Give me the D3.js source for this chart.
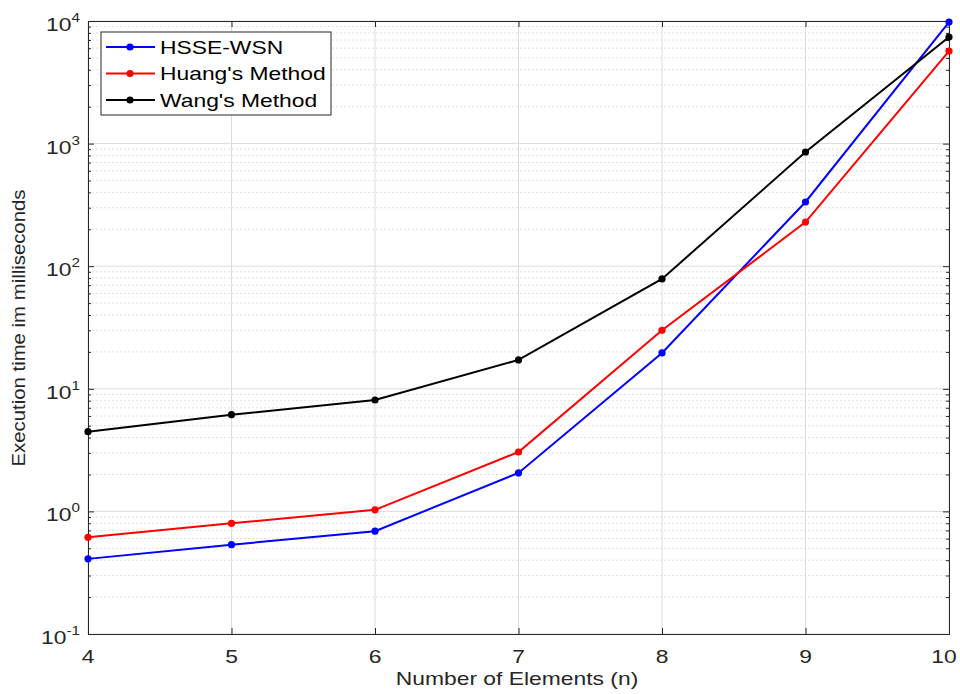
<!DOCTYPE html>
<html>
<head>
<meta charset="utf-8">
<script src="https://cdn.jsdelivr.net/npm/d3@7"></script>
<style>
  body { margin: 0; background: #fff; }
  text { font-family: Arial, "Liberation Sans", sans-serif; }
</style>
</head>
<body>
<svg id="chart" width="960" height="694"></svg>
<script>
var elements = [4, 5, 6, 7, 8, 9, 10]
var hsseWsn = [0.41, 0.535, 0.69, 2.06, 19.6, 334, 9800]
var huang = [0.615, 0.80, 1.03, 3.05, 30, 229, 5690]
var wang = [4.47, 6.15, 8.1, 17.2, 78.7, 854, 7400]
var seriesNames = ["HSSE-WSN", "Huang's Method", "Wang's Method"]
var seriesColors = ["#0000ff", "#ff0000", "#000000"]
var yTickExps = [-1, 0, 1, 2, 3, 4]

var svg = d3.select("#chart"),
  margin = {top: 21, right: 11, bottom: 60, left: 88},
  width = +svg.attr("width") - margin.left - margin.right,
  height = +svg.attr("height") - margin.top - margin.bottom;

var x = d3.scaleLinear().domain([4, 10]).range([0, width]),
  y = d3.scaleLog().domain([0.1, 10000]).range([height, 0]);

var axisColor = "#262626"
var sx = 1.27  // the picture's text is stretched sideways

// text stretched horizontally like the reference
function wideText(parent, px, py, str, size, anchor, fill) {
  var t = parent.append("g").attr("transform", "translate(" + px + "," + py + ") scale(" + sx + ",1)")
    .append("text").attr("text-anchor", anchor || "start")
    .attr("font-size", size).attr("fill", fill || axisColor);
  if (str != null) t.text(str);
  return t;
}

var g = svg.append("g").attr("transform", "translate(" + margin.left + "," + margin.top + ")");

// minor grid
var minor = []
for (var e = -1; e < 4; e++) {
  for (var m = 2; m <= 9; m++) minor.push(m * Math.pow(10, e))
}
g.selectAll(".minor").data(minor).enter().append("line")
  .attr("x1", 0).attr("x2", width)
  .attr("y1", d => y(d)).attr("y2", d => y(d))
  .attr("stroke", "#d9d9d9").attr("stroke-width", 0.8)
  .attr("stroke-dasharray", "2,2");

// major grid
g.selectAll(".hmaj").data(yTickExps).enter().append("line")
  .attr("x1", 0).attr("x2", width)
  .attr("y1", d => y(Math.pow(10, d))).attr("y2", d => y(Math.pow(10, d)))
  .attr("stroke", "#dcdcdc").attr("stroke-width", 1);
g.selectAll(".vmaj").data(elements).enter().append("line")
  .attr("x1", d => x(d)).attr("x2", d => x(d))
  .attr("y1", 0).attr("y2", height)
  .attr("stroke", "#dcdcdc").attr("stroke-width", 1);

// axes (ticks inward)
g.append("g").attr("transform", "translate(0," + height + ")")
  .call(d3.axisBottom(x).tickValues(elements).tickSizeInner(-6).tickSizeOuter(0).tickFormat(""));
g.append("g")
  .call(d3.axisTop(x).tickValues(elements).tickSizeInner(-6).tickSizeOuter(0).tickFormat(""));
g.append("g")
  .call(d3.axisLeft(y).tickValues(yTickExps.map(d => Math.pow(10, d))).tickSizeInner(-6).tickSizeOuter(0).tickFormat(""));
g.append("g").attr("transform", "translate(" + width + ",0)")
  .call(d3.axisRight(y).tickValues(yTickExps.map(d => Math.pow(10, d))).tickSizeInner(-6).tickSizeOuter(0).tickFormat(""));
g.append("g")
  .call(d3.axisLeft(y).tickValues(minor).tickSizeInner(-3).tickSizeOuter(0).tickFormat(""));
g.append("g").attr("transform", "translate(" + width + ",0)")
  .call(d3.axisRight(y).tickValues(minor).tickSizeInner(-3).tickSizeOuter(0).tickFormat(""));

g.selectAll(".domain").attr("stroke", axisColor).attr("stroke-width", 1);
g.selectAll(".tick line").attr("stroke", axisColor);

// x tick labels (last one nudged so it stays inside the page)
elements.forEach(function(d) {
  var px = Math.min(x(d), width + margin.right - 16);
  wideText(g, px, height + 29, d, 18, "middle");
});

// y tick labels as 10^n
yTickExps.forEach(function(d) {
  var t = wideText(g, -8, y(Math.pow(10, d)) + 10, null, 18, "end");
  t.append("tspan").text("10");
  t.append("tspan").text(d).attr("font-size", 12).attr("dy", -9);
});

// lines
var allSeries = [hsseWsn, huang, wang]
var line = d3.line().x((d, i) => x(elements[i])).y(d => y(d));
allSeries.forEach(function(s, k) {
  g.append("path").datum(s).attr("d", line)
    .attr("fill", "none").attr("stroke", seriesColors[k]).attr("stroke-width", 2);
  g.selectAll(".dot" + k).data(s).enter().append("circle")
    .attr("cx", (d, i) => x(elements[i])).attr("cy", d => y(d)).attr("r", 3.6)
    .attr("fill", seriesColors[k]);
});

// axis titles
wideText(svg, 517, 685, "Number of Elements (n)", 18, "middle");
svg.append("text").attr("transform", "translate(25,328) rotate(-90)")
  .attr("text-anchor", "middle").attr("font-size", 18).attr("fill", axisColor)
  .attr("textLength", 277).attr("lengthAdjust", "spacingAndGlyphs")
  .text("Execution time im milliseconds");

// legend
var leg = svg.append("g").attr("transform", "translate(101,32)");
leg.append("rect").attr("width", 230).attr("height", 83)
  .attr("fill", "#fff").attr("stroke", axisColor).attr("stroke-width", 1);
seriesNames.forEach(function(n, k) {
  var yy = 15 + k * 26.5;
  leg.append("line").attr("x1", 5).attr("x2", 54).attr("y1", yy).attr("y2", yy)
    .attr("stroke", seriesColors[k]).attr("stroke-width", 2);
  leg.append("circle").attr("cx", 29).attr("cy", yy).attr("r", 3.6).attr("fill", seriesColors[k]);
  wideText(leg, 59, yy + 6.5, n, 18, "start", "#000");
});
</script>
</body>
</html>
